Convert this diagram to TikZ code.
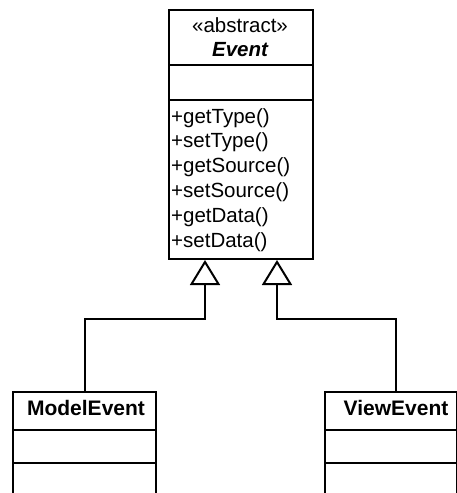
\documentclass[tikz,border=0pt]{standalone}
\usepackage{fontspec}
\setmainfont{Liberation Sans}
\usetikzlibrary{arrows.meta,calc}
\begin{document}
\begin{tikzpicture}[x=1pt,y=-1pt,
  box/.style={draw=black, line width=2pt, inner sep=0pt, anchor=north west},
  txt/.style={font=\fontsize{20.5}{24}\selectfont, inner sep=0pt, anchor=base},
  mtxt/.style={font=\fontsize{20.5}{24}\selectfont, inner sep=0pt, anchor=base west},
  gen/.style={draw=black, line width=2pt, -{Triangle[open,fill=white,length=25pt,width=30pt]}}]
\clip (0,0) rectangle (457,493);
\fill[white] (0,0) rectangle (457,493);
% Event class
\node[box, minimum width=144pt, minimum height=55pt] (evtitle) at (168,9) {};
\node[box, minimum width=144pt, minimum height=35pt] (evattr) at (168,64) {};
\node[box, minimum width=144pt, minimum height=159pt] (evmeth) at (168,99) {};
\node[txt] (stereo) at (240,32) {«abstract»};
\node[txt, font=\fontsize{20.5}{24}\selectfont\bfseries\itshape] (evname) at (240,56) {Event};
\node[mtxt] (m1) at (171,123) {+getType()};
\node[mtxt] (m2) at (171,147.8) {+setType()};
\node[mtxt] (m3) at (171,172.6) {+getSource()};
\node[mtxt] (m4) at (171,197.4) {+setSource()};
\node[mtxt] (m5) at (171,222.2) {+getData()};
\node[mtxt] (m6) at (171,247) {+setData()};
% ModelEvent class
\node[box, minimum width=143pt, minimum height=38pt] (model) at (12,391) {};
\node[box, minimum width=143pt, minimum height=33pt] (modelattr) at (12,429) {};
\node[box, minimum width=143pt, minimum height=60pt] (modelmeth) at (12,462) {};
\node[txt, font=\fontsize{21}{24}\selectfont\bfseries] (modelname) at (86,415) {ModelEvent};
% ViewEvent class
\node[box, minimum width=132pt, minimum height=38pt] (view) at (324,391) {};
\node[box, minimum width=132pt, minimum height=33pt] (viewattr) at (324,429) {};
\node[box, minimum width=132pt, minimum height=60pt] (viewmeth) at (324,462) {};
\node[txt, font=\fontsize{21}{24}\selectfont\bfseries] (viewname) at (396,415) {ViewEvent};
% generalizations
\coordinate (ap1) at ($(evmeth.south west)+(37,0)$);
\coordinate (ap2) at ($(evmeth.south west)+(109,0)$);
\coordinate (k1) at ($(ap1)+(0,59)$);
\coordinate (k2) at ($(ap2)+(0,59)$);
\coordinate (vtop) at ($(view.north west)+(72,0)$);
\draw[gen] (model.north) |- (k1) -- (ap1);
\draw[gen] (vtop) |- (k2) -- (ap2);
\end{tikzpicture}
\end{document}
